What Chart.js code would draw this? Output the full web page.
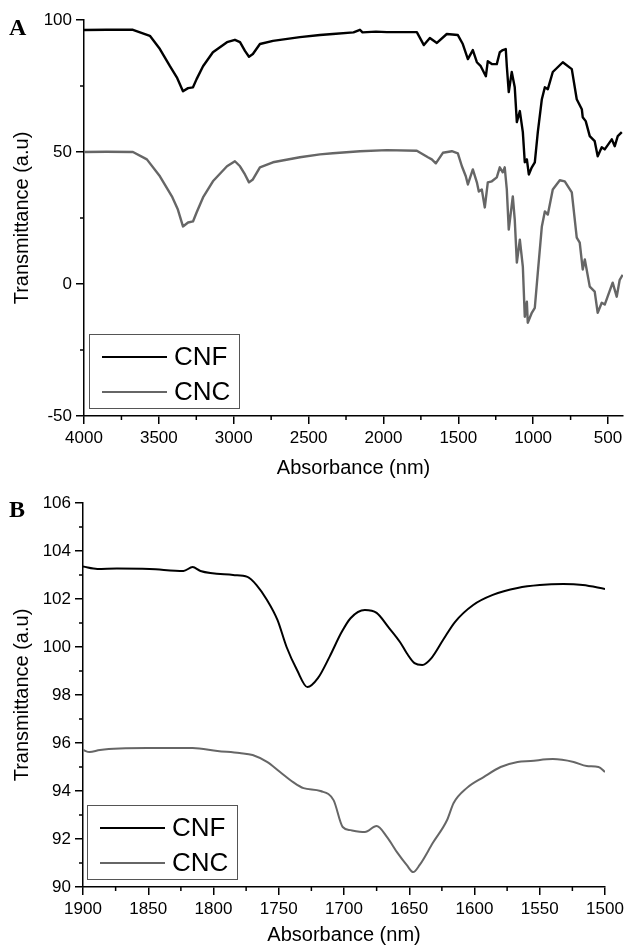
<!DOCTYPE html>
<html>
<head>
<meta charset="utf-8">
<script src="https://cdn.jsdelivr.net/npm/chart.js@4"></script>
<style>
  body { margin: 0; background: #fff; }
  #wrap { position: relative; width: 626px; height: 947px; }
  canvas { position: absolute; left: 0; }
</style>
</head>
<body>
<div id="wrap">
  <canvas id="chartA" width="626" height="480" style="top:0"></canvas>
  <canvas id="chartB" width="626" height="467" style="top:480px"></canvas>
</div>
<script>
// panel A: full spectrum
const cnfA_x = [4000, 3850, 3673, 3560, 3493, 3426, 3380, 3339, 3305, 3272, 3248, 3205, 3139, 3045, 2992, 2958, 2925, 2898, 2872, 2825,
  2738, 2558, 2424, 2338, 2200, 2157, 2140, 2050, 1977, 1777, 1730, 1690, 1643, 1577, 1503, 1470, 1436, 1403, 1376, 1350,
  1316, 1303, 1276, 1243, 1223, 1203, 1183, 1176, 1163, 1143, 1123, 1109, 1089, 1069, 1056, 1042, 1029, 1009, 989, 969,
  942, 922, 902, 869, 802, 742, 709, 675, 669, 649, 622, 589, 569, 542, 522, 475, 455, 435, 408];
const cnfA_y = [96.2, 96.3, 96.3, 94.0, 89.0, 82.5, 78.3, 73.0, 74.2, 74.5, 77.6, 82.5, 87.8, 91.6, 92.5, 91.6, 88.3, 86.1, 87.1, 90.9,
  92.1, 93.5, 94.3, 94.7, 95.3, 96.3, 95.3, 95.6, 95.4, 95.4, 90.5, 93.2, 91.3, 94.7, 94.3, 90.9, 85.2, 88.6, 84.0, 82.5,
  78.7, 84.4, 83.3, 83.3, 87.8, 88.6, 89.0, 82.5, 72.7, 80.3, 74.5, 61.3, 65.5, 57.5, 46.1, 47.2, 41.5, 44.2, 46.1, 57.5,
  70.0, 74.5, 73.8, 80.3, 84.0, 81.4, 70.0, 66.2, 63.2, 61.7, 56.0, 54.1, 48.4, 51.8, 51.0, 54.8, 52.2, 56.0, 57.5];

const cncA_x = [4000, 3850, 3673, 3580, 3493, 3413, 3373, 3339, 3305, 3272, 3248, 3205, 3139, 3045, 2992, 2958, 2925, 2898, 2872, 2825,
  2738, 2558, 2424, 2338, 2157, 1977, 1777, 1703, 1677, 1650, 1603, 1543, 1503, 1476, 1450, 1436, 1403, 1376, 1363, 1343,
  1323, 1303, 1276, 1243, 1223, 1203, 1190, 1176, 1163, 1136, 1123, 1109, 1089, 1069, 1056, 1042, 1036, 1009, 989, 969,
  942, 922, 902, 869, 822, 789, 742, 709, 689, 669, 655, 622, 589, 569, 542, 522, 469, 442, 422, 402];
const cncA_y = [50.0, 50.1, 50.0, 47.2, 40.8, 33.2, 28.2, 21.8, 23.3, 23.7, 27.1, 32.8, 38.9, 44.6, 46.5, 44.6, 41.5, 38.5, 39.6, 44.2,
  46.1, 48.0, 49.1, 49.5, 50.3, 50.7, 50.5, 48.0, 47.2, 45.7, 49.7, 50.3, 49.5, 44.6, 40.8, 37.7, 43.4, 38.5, 35.0, 35.8,
  29.0, 38.5, 38.9, 40.4, 44.2, 42.3, 44.2, 35.8, 20.6, 33.2, 24.4, 8.1, 16.8, 6.6, -12.4, -6.7, -14.7, -10.9, -9.0, 4.3,
  21.8, 27.5, 26.3, 35.8, 39.3, 38.9, 34.7, 17.6, 15.7, 5.5, 9.3, -1.0, -2.9, -10.9, -7.1, -7.8, 0.5, -4.8, 1.6, 3.5];

// panel B: 1900-1500 zoom
const cnfB_x = [1900, 1889, 1874, 1849, 1823, 1816, 1810, 1785, 1774, 1767, 1759, 1751, 1744, 1736, 1728, 1720, 1711, 1702, 1695, 1684,
  1675, 1666, 1657, 1652, 1646, 1640, 1633, 1624, 1615, 1601, 1586, 1567, 1550, 1532, 1517, 1500];
const cnfB_y = [103.35, 103.25, 103.27, 103.25, 103.17, 103.33, 103.17, 103.0, 102.92, 102.58, 101.96, 101.13, 100.0, 99.04, 98.33, 98.7, 99.6, 100.6, 101.2, 101.54,
  101.42, 100.83, 100.2, 99.75, 99.33, 99.25, 99.54, 100.3, 101.04, 101.75, 102.17, 102.46, 102.58, 102.62, 102.58, 102.42];

const cncB_x = [1900, 1895, 1887, 1851, 1816, 1797, 1780, 1770, 1759, 1749, 1739, 1731, 1718, 1708, 1701, 1695, 1684, 1675, 1667, 1659,
  1652, 1647, 1642, 1632, 1621, 1616, 1606, 1593, 1580, 1567, 1557, 1540, 1524, 1514, 1505, 1500];
const cncB_y = [95.71, 95.62, 95.71, 95.79, 95.79, 95.67, 95.58, 95.5, 95.21, 94.79, 94.37, 94.12, 94.0, 93.62, 92.5, 92.37, 92.29, 92.54, 92.08, 91.42,
  90.92, 90.62, 90.92, 91.83, 92.79, 93.5, 94.12, 94.58, 95.0, 95.21, 95.25, 95.33, 95.21, 95.04, 95.0, 94.79];

const seriesNames = ['CNF', 'CNC'];
const xTicksA = [500, 1000, 1500, 2000, 2500, 3000, 3500, 4000];
const yTicksA = [-50, 0, 50, 100];
const xTicksB = [1500, 1550, 1600, 1650, 1700, 1750, 1800, 1850, 1900];
const yTicksB = [90, 92, 94, 96, 98, 100, 102, 104, 106];

Chart.defaults.font.family = "'Liberation Sans', Arial, sans-serif";
Chart.defaults.color = '#000';

function points(xs, ys) {
  return xs.map((x, i) => ({ x: x, y: ys[i] }));
}

// minor ticks, inset legend and panel letter
const extras = {
  id: 'extras',
  afterDraw(chart, args, opts) {
    const ctx = chart.ctx;
    const area = chart.chartArea;
    ctx.save();
    ctx.strokeStyle = '#000';
    ctx.lineWidth = 1.5;
    ['x', 'y'].forEach(id => {
      const s = chart.scales[id];
      const vals = s.ticks.map(t => t.value).sort((a, b) => a - b);
      for (let i = 0; i < vals.length - 1; i++) {
        const p = s.getPixelForValue((vals[i] + vals[i + 1]) / 2);
        ctx.beginPath();
        if (s.isHorizontal()) { ctx.moveTo(p, s.top); ctx.lineTo(p, s.top + 4); }
        else { ctx.moveTo(s.right, p); ctx.lineTo(s.right - 4, p); }
        ctx.stroke();
      }
    });

    const bx = area.left + opts.boxDx, by = area.bottom - 8 - 74;
    ctx.strokeStyle = '#555';
    ctx.lineWidth = 1;
    ctx.strokeRect(bx + 0.5, by + 0.5, 150, 74);
    ctx.font = "26px 'Liberation Sans', Arial, sans-serif";
    ctx.textBaseline = 'middle';
    chart.data.datasets.forEach((ds, i) => {
      const ly = by + 23 + i * 35;
      ctx.strokeStyle = ds.borderColor;
      ctx.lineWidth = 2;
      ctx.beginPath();
      ctx.moveTo(bx + 13, ly);
      ctx.lineTo(bx + 78, ly);
      ctx.stroke();
      ctx.fillStyle = '#000';
      ctx.fillText(ds.label, bx + 85, ly + 1);
    });

    ctx.font = "bold 24px 'Liberation Serif', 'Times New Roman', serif";
    ctx.textBaseline = 'alphabetic';
    ctx.fillText(opts.letter, 9, opts.letterY);
    ctx.restore();
  }
};

function makeChart(id, cfg) {
  const axisFont = { size: 17 };
  const titleFont = { size: 20 };
  return new Chart(document.getElementById(id), {
    type: 'scatter',
    data: {
      datasets: [
        { label: seriesNames[0], data: cfg.cnf, borderColor: '#000' },
        { label: seriesNames[1], data: cfg.cnc, borderColor: '#666' }
      ].map(d => Object.assign(d, {
        showLine: true, pointRadius: 0, fill: false, borderWidth: cfg.lineWidth,
        borderJoinStyle: 'round', cubicInterpolationMode: cfg.smooth ? 'monotone' : 'default', tension: 0
      }))
    },
    options: {
      responsive: false,
      animation: false,
      events: [],
      layout: { padding: { top: cfg.top, right: cfg.right, left: 0, bottom: 0 } },
      plugins: {
        legend: { display: false },
        tooltip: { enabled: false },
        extras: { letter: cfg.letter, letterY: cfg.letterY, boxDx: cfg.boxDx }
      },
      scales: {
        x: {
          type: 'linear',
          min: cfg.xMin,
          max: cfg.xMax,
          reverse: true,
          afterBuildTicks: s => { s.ticks = cfg.xTicks.map(v => ({ value: v })); },
          afterFit: s => { s.height = cfg.xHeight; },
          ticks: { font: axisFont, padding: 4, maxRotation: 0, autoSkip: false, callback: v => String(v) },
          grid: { drawOnChartArea: false, tickLength: 8, color: '#000', lineWidth: 1.5 },
          border: { color: '#000', width: 1.5 },
          title: { display: true, text: 'Absorbance (nm)', font: titleFont, padding: { top: 0, bottom: 0 } }
        },
        y: {
          min: cfg.yMin,
          max: cfg.yMax,
          afterBuildTicks: s => { s.ticks = cfg.yTicks.map(v => ({ value: v })); },
          afterFit: s => { s.width = cfg.yWidth; },
          ticks: { font: axisFont, padding: 4, autoSkip: false, callback: v => String(v) },
          grid: { drawOnChartArea: false, tickLength: 8, color: '#000', lineWidth: 1.5 },
          border: { color: '#000', width: 1.5 },
          title: { display: true, text: 'Transmittance (a.u)', font: titleFont, padding: { top: 10, bottom: 0 } }
        }
      }
    },
    plugins: [extras]
  });
}

makeChart('chartA', {
  cnf: points(cnfA_x, cnfA_y), cnc: points(cncA_x, cncA_y),
  xMin: 400, xMax: 4000, yMin: -50, yMax: 100,
  xTicks: xTicksA, yTicks: yTicksA,
  top: 20, right: 3, xHeight: 64, yWidth: 84,
  letter: 'A', letterY: 35, boxDx: 5, lineWidth: 2.4, smooth: false
});

makeChart('chartB', {
  cnf: points(cnfB_x, cnfB_y), cnc: points(cncB_x, cncB_y),
  xMin: 1500, xMax: 1900, yMin: 90, yMax: 106,
  xTicks: xTicksB, yTicks: yTicksB,
  top: 23, right: 21, xHeight: 60, yWidth: 83,
  letter: 'B', letterY: 37, boxDx: 4, lineWidth: 2, smooth: true
});
</script>
</body>
</html>
